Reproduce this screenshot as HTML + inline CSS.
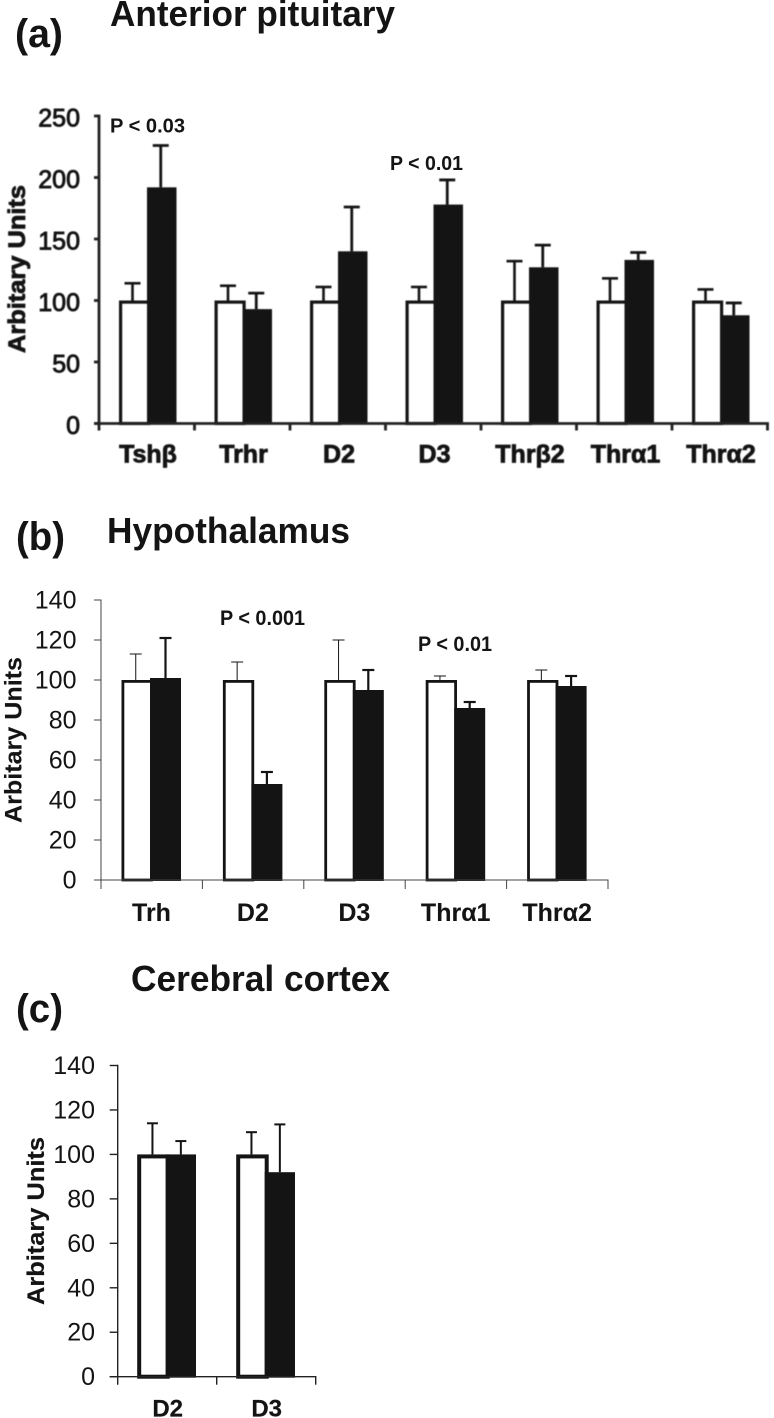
<!DOCTYPE html>
<html lang="en">
<head>
<meta charset="utf-8">
<title>Anterior pituitary, hypothalamus and cerebral cortex bar charts</title>
<style>
html,body{margin:0;padding:0;background:#fff;width:774px;height:1418px;overflow:hidden}
svg{display:block;font-family:"Liberation Sans","DejaVu Sans",sans-serif}
text{fill:#141414}
</style>
</head>
<body>
<svg id="figure" xmlns="http://www.w3.org/2000/svg" width="774" height="1418" viewBox="0 0 774 1418">
  <text x="15" y="47" font-size="40" font-weight="700" textLength="48" lengthAdjust="spacingAndGlyphs">(a)</text>
  <text x="110" y="26" font-size="36" font-weight="700" textLength="285" lengthAdjust="spacingAndGlyphs">Anterior pituitary</text>
  <text x="16" y="550" font-size="40" font-weight="700" textLength="49" lengthAdjust="spacingAndGlyphs">(b)</text>
  <text x="107" y="543" font-size="36" font-weight="700" textLength="243" lengthAdjust="spacingAndGlyphs">Hypothalamus</text>
  <text x="16" y="1022" font-size="40" font-weight="700" textLength="47" lengthAdjust="spacingAndGlyphs">(c)</text>
  <text x="131" y="991" font-size="36" font-weight="700" textLength="259" lengthAdjust="spacingAndGlyphs">Cerebral cortex</text>
  <text x="110" y="132.5" font-size="20.5" font-weight="700" textLength="75" lengthAdjust="spacingAndGlyphs">P &lt; 0.03</text>
  <text x="390" y="170" font-size="20.5" font-weight="700" textLength="73" lengthAdjust="spacingAndGlyphs">P &lt; 0.01</text>
  <text x="220" y="625" font-size="21" font-weight="700" textLength="85" lengthAdjust="spacingAndGlyphs">P &lt; 0.001</text>
  <text x="418" y="651" font-size="21" font-weight="700" textLength="74" lengthAdjust="spacingAndGlyphs">P &lt; 0.01</text>
</svg>
<script>
// Panel (a) Anterior pituitary
const aCategories = ["Tshβ", "Trhr", "D2", "D3", "Thrβ2", "Thrα1", "Thrα2"];
const aControl = [100, 100, 100, 100, 100, 100, 100];
const aTreated = [192, 93, 140, 178, 127, 133, 88];
const aControlTop = [114, 112, 111, 111, 132, 118, 109];
const aTreatedTop = [226, 106, 176, 198, 145, 139, 98];
const aTicks = [0, 50, 100, 150, 200, 250];

// Panel (b) Hypothalamus
const bCategories = ["Trh", "D2", "D3", "Thrα1", "Thrα2"];
const bControl = [100, 100, 100, 100, 100];
const bTreated = [101, 48, 95, 86, 97];
const bControlTop = [113, 109, 120, 102, 105];
const bTreatedTop = [121, 54, 105, 89, 102];
const bTicks = [0, 20, 40, 60, 80, 100, 120, 140];

// Panel (c) Cerebral cortex
const cCategories = ["D2", "D3"];
const cControl = [100, 100];
const cTreated = [100, 92];
const cControlTop = [114, 110];
const cTreatedTop = [106, 113.5];
const cTicks = [0, 20, 40, 60, 80, 100, 120, 140];

const NS = "http://www.w3.org/2000/svg";
const svg = document.getElementById("figure");

function make(parent, tag, attrs, txt) {
  const node = document.createElementNS(NS, tag);
  for (const k in attrs) node.setAttribute(k, attrs[k]);
  if (txt !== undefined) node.textContent = txt;
  parent.appendChild(node);
  return node;
}

function drawPanel(id, p, categories, control, treated, controlTop, treatedTop, ticks) {
  const g = make(svg, "g", {});
  
  
  if (p.blur) g.setAttribute("style", "filter:blur(" + p.blur + "px)");

  const maxV = ticks[ticks.length - 1];
  const yScale = v => p.y0 - (v / maxV) * (p.y0 - p.yTop);
  const xScale = i => p.x0 + i * p.step;

  // bars and error bars
  categories.forEach((cat, i) => {
    const left = xScale(i) + p.whiteOff;
    const mid = xScale(i) + p.midOff;
    const right = xScale(i) + p.blackOff;
    const cx1 = (left + mid) / 2 + p.errShift1;
    const cx2 = (mid + right) / 2 + p.errShift2;

    const e1 = make(g, "line", {x1: cx1, x2: cx1, y1: yScale(control[i]), y2: yScale(controlTop[i]), stroke: "#141414", "stroke-width": p.errW1});
    
    
    const c1 = make(g, "line", {x1: cx1 - p.cap / 2, x2: cx1 + p.cap / 2, y1: yScale(controlTop[i]), y2: yScale(controlTop[i]), stroke: "#141414", "stroke-width": p.errW1});
    
    
    const e2 = make(g, "line", {x1: cx2, x2: cx2, y1: yScale(treated[i]), y2: yScale(treatedTop[i]), stroke: "#141414", "stroke-width": p.errW2});
    
    
    const c2 = make(g, "line", {x1: cx2 - p.cap / 2, x2: cx2 + p.cap / 2, y1: yScale(treatedTop[i]), y2: yScale(treatedTop[i]), stroke: "#141414", "stroke-width": p.errW2});
    
    

    const s = p.barW;
    const b1 = make(g, "rect", {x: left + s / 2, y: yScale(control[i]) + s / 2, width: mid - left, height: p.y0 - yScale(control[i]) - s / 2, fill: "#fff", stroke: "#141414", "stroke-width": s});
    
    
    const b2 = make(g, "rect", {x: mid, y: yScale(treated[i]), width: right - mid, height: p.y0 - yScale(treated[i]) + 1, fill: "#141414"});
    
    

    const lab = make(g, "text", {x: xScale(i) + p.labOff, y: p.labY, "font-size": p.labSize, "font-weight": 700, "text-anchor": "middle", stroke: "#141414", "stroke-width": p.textStroke}, cat);
    
    
  });

  // axes
  const yAxis = make(g, "line", {x1: p.x0, x2: p.x0, y1: p.yTop - p.axisW / 2, y2: p.y0 + p.tickDown, stroke: p.axisColor, "stroke-width": p.axisW});
  
  
  const xEnd = xScale(categories.length);
  const xAxis = make(g, "line", {x1: p.x0 - p.tickLeft, x2: xEnd + p.axisW / 2, y1: p.y0, y2: p.y0, stroke: p.axisColor, "stroke-width": p.axisW});
  
  

  for (let i = 1; i <= categories.length; i++) {
    const t = make(g, "line", {x1: xScale(i), x2: xScale(i), y1: p.y0, y2: p.y0 + p.tickDown, stroke: p.axisColor, "stroke-width": p.axisW});
    
    
  }

  ticks.forEach(v => {
    const t = make(g, "line", {x1: p.x0 - p.tickLeft, x2: p.x0, y1: yScale(v), y2: yScale(v), stroke: p.axisColor, "stroke-width": p.axisW});
    
    
    const l = make(g, "text", {x: p.tickTextX, y: yScale(v) + p.tickTextDy, "font-size": p.tickSize, "text-anchor": "end", stroke: "#141414", "stroke-width": p.tickStroke}, String(v));
    
    
  });

  const yMid = p.titleMid;
  const title = make(g, "text", {
    transform: "translate(" + p.titleX + " " + yMid + ") rotate(-90)",
    "text-anchor": "middle", "font-size": p.titleSize, "font-weight": 700,
    textLength: p.titleLen, lengthAdjust: "spacingAndGlyphs",
    stroke: "#141414", "stroke-width": p.textStroke
  }, "Arbitary Units");
  
  
}

drawPanel("panel-a", {
  x0: 99, step: 95.5, y0: 423.5, yTop: 116,
  whiteOff: 20, midOff: 48, blackOff: 77.5, barW: 3.2,
  errW1: 2.6, errW2: 2.8, cap: 16, errShift1: -0.5, errShift2: -1,
  axisW: 2.8, axisColor: "#222", tickDown: 7, tickLeft: 5,
  tickTextX: 80, tickTextDy: 10.5, tickSize: 25, tickStroke: 0.9,
  labOff: 49, labY: 462.5, labSize: 25, textStroke: 0.8,
  titleX: 25, titleMid: 269, titleSize: 24, titleLen: 168, blur: 0.4
}, aCategories, aControl, aTreated, aControlTop, aTreatedTop, aTicks);

drawPanel("panel-b", {
  x0: 101, step: 101.4, y0: 880, yTop: 600,
  whiteOff: 20.5, midOff: 49, blackOff: 80, barW: 2.8,
  errW1: 1, errW2: 2.2, cap: 12, errShift1: 0, errShift2: 0,
  axisW: 1, axisColor: "#444", tickDown: 9, tickLeft: 7,
  tickTextX: 76.5, tickTextDy: 8.5, tickSize: 25, tickStroke: 0,
  labOff: 50.5, labY: 921, labSize: 25, textStroke: 0.1,
  titleX: 21.5, titleMid: 740, titleSize: 24, titleLen: 166
}, bCategories, bControl, bTreated, bControlTop, bTreatedTop, bTicks);

drawPanel("panel-c", {
  x0: 117.7, step: 99, y0: 1376.7, yTop: 1065.5,
  whiteOff: 19.5, midOff: 48, blackOff: 78.3, barW: 4,
  errW1: 2, errW2: 2, cap: 11, errShift1: 1, errShift2: 0,
  axisW: 1.4, axisColor: "#222", tickDown: 8, tickLeft: 8,
  tickTextX: 95, tickTextDy: 8.5, tickSize: 25, tickStroke: 0,
  labOff: 50, labY: 1416.5, labSize: 24, textStroke: 0.2,
  titleX: 44, titleMid: 1221, titleSize: 24, titleLen: 168
}, cCategories, cControl, cTreated, cControlTop, cTreatedTop, cTicks);
</script>
</body>
</html>
